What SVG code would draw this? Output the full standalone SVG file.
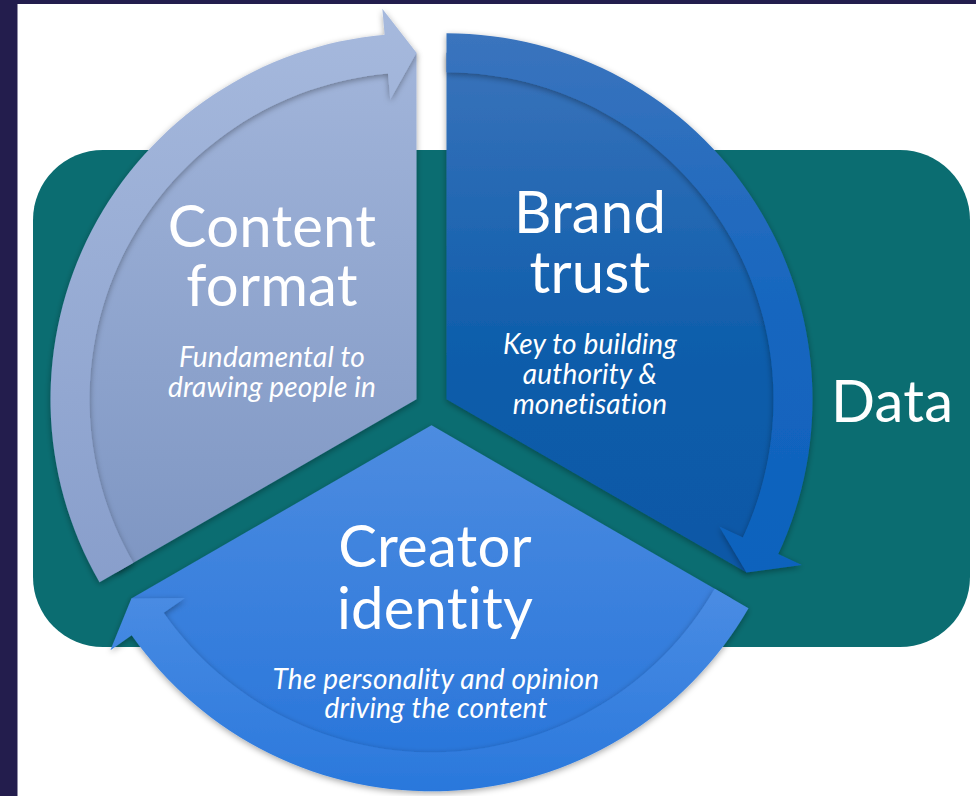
<svg xmlns="http://www.w3.org/2000/svg" width="976" height="796" viewBox="0 0 976 796">
  <defs>
    <style>
      text { font-variant-ligatures: none; font-feature-settings: "liga" 0, "clig" 0, "dlig" 0; letter-spacing: 0.2px; }
      .title { font-family: Lato, "Liberation Sans", sans-serif; font-size: 58px; fill: #ffffff; text-anchor: middle; }
      .sub { font-family: Lato, "Liberation Sans", sans-serif; font-style: italic; font-size: 28px; fill: #ffffff; text-anchor: middle; }
      .data { font-family: Lato, "Liberation Sans", sans-serif; font-size: 58px; fill: #ffffff; }
    </style>
    <filter id="shadow" x="-10%" y="-10%" width="120%" height="120%">
      <feDropShadow dx="0" dy="2" stdDeviation="3" flood-color="#000000" flood-opacity="0.35"/>
    </filter>
    <linearGradient id="contentBody" gradientUnits="userSpaceOnUse" x1="0" y1="30" x2="0" y2="590">
      <stop offset="0" stop-color="#a3b6db"/>
      <stop offset="1" stop-color="#7d95c2"/>
    </linearGradient>
    <linearGradient id="contentBand" gradientUnits="userSpaceOnUse" x1="0" y1="10" x2="0" y2="590">
      <stop offset="0" stop-color="#a6b9dd"/>
      <stop offset="1" stop-color="#889ecb"/>
    </linearGradient>
    <linearGradient id="brandBody" gradientUnits="userSpaceOnUse" x1="0" y1="50" x2="0" y2="580">
      <stop offset="0" stop-color="#3a73bb"/>
      <stop offset="0.6" stop-color="#0b5caa"/>
      <stop offset="1" stop-color="#0a58a6"/>
    </linearGradient>
    <linearGradient id="brandBand" gradientUnits="userSpaceOnUse" x1="0" y1="30" x2="0" y2="580">
      <stop offset="0" stop-color="#3b74bd"/>
      <stop offset="0.5" stop-color="#1666bf"/>
      <stop offset="1" stop-color="#0d62bd"/>
    </linearGradient>
    <linearGradient id="creatorBody" gradientUnits="userSpaceOnUse" x1="0" y1="425" x2="0" y2="790">
      <stop offset="0" stop-color="#4d8ce0"/>
      <stop offset="1" stop-color="#2674da"/>
    </linearGradient>
    <linearGradient id="creatorBand" gradientUnits="userSpaceOnUse" x1="0" y1="590" x2="0" y2="790">
      <stop offset="0" stop-color="#4a8ce3"/>
      <stop offset="1" stop-color="#2a78dc"/>
    </linearGradient>
  </defs>

  <!-- frame and page -->
  <rect x="0" y="0" width="976" height="796" fill="#231d4d"/>
  <rect x="17.5" y="4" width="958.5" height="792" fill="#ffffff"/>

  <!-- data backdrop -->
  <g id="data">
    <rect x="33" y="150" width="937" height="497" rx="70" ry="70" fill="#0b6d71"/>
    <text class="data" x="831" y="422">Data</text>
  </g>

  <!-- upper-left segment -->
  <g id="content-format">
    <path d="M416.5,399.35 L116.42,572.6 A346.5,346.5 0 0 1 416.5,52.85 Z" fill="url(#contentBody)" filter="url(#shadow)"/>
    <path d="M99.53,582.35 A366,366 0 0 1 384.60,34.74 L382.33,8.84 L416.5,52.85 L390.27,99.50 L388.0,73.59 A327,327 0 0 0 133.31,562.85 Z" fill="url(#contentBand)" filter="url(#shadow)"/>
    <text class="title" x="272" y="247">Content</text>
    <text class="title" x="272" y="306">format</text>
    <text class="sub" x="272" y="367">Fundamental to</text>
    <text class="sub" x="272" y="397">drawing people in</text>
  </g>

  <!-- upper-right segment -->
  <g id="brand-trust">
    <path d="M446.5,399.35 L446.5,52.85 A346.5,346.5 0 0 1 746.58,572.6 Z" fill="url(#brandBody)" filter="url(#shadow)"/>
    <path d="M446.5,33.35 A366,366 0 0 1 778.21,554.03 L801.77,565.02 L746.58,572.6 L719.30,526.56 L742.86,537.55 A327,327 0 0 0 446.5,72.35 Z" fill="url(#brandBand)" filter="url(#shadow)"/>
    <text class="title" x="590" y="233">Brand</text>
    <text class="title" x="590" y="293">trust</text>
    <text class="sub" x="590" y="354">Key to building</text>
    <text class="sub" x="590" y="384">authority &amp;</text>
    <text class="sub" x="590" y="414">monetisation</text>
  </g>

  <!-- bottom segment -->
  <g id="creator-identity">
    <path d="M431.5,425.3 L731.58,598.55 A346.5,346.5 0 0 1 131.42,598.55 Z" fill="url(#creatorBody)" filter="url(#shadow)"/>
    <path d="M748.47,608.3 A366,366 0 0 1 131.69,635.23 L110.39,650.14 L131.42,598.55 L184.94,597.95 L163.64,612.86 A327,327 0 0 0 714.69,588.8 Z" fill="url(#creatorBand)" filter="url(#shadow)"/>
    <text class="title" x="435" y="567">Creator</text>
    <text class="title" x="435" y="629">identity</text>
    <text class="sub" x="436" y="689">The personality and opinion</text>
    <text class="sub" x="436" y="718">driving the content</text>
  </g>
</svg>
